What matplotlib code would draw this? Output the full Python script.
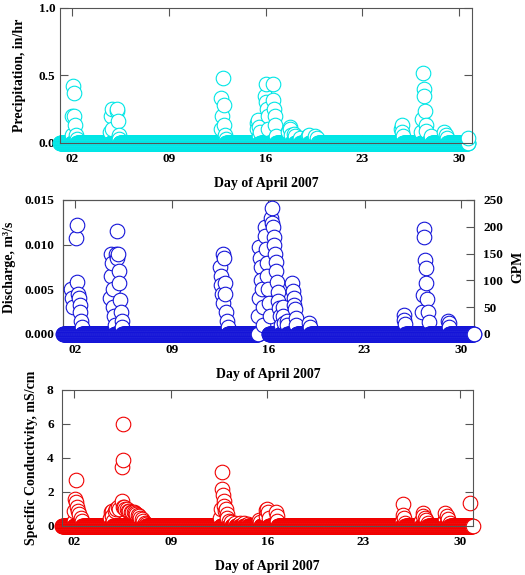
import matplotlib
matplotlib.use('Agg')
import matplotlib.pyplot as plt
import numpy as np

plt.rcParams['font.family'] = ['Liberation Serif', 'DejaVu Serif']
plt.rcParams['font.weight'] = 'bold'
plt.rcParams['axes.labelweight'] = 'bold'

# x 축 눈금 (4월 날짜)
day_ticks = [2, 9, 16, 23, 30]
day_labels = ['02', '09', '16', '23', '30']

# 강수량 (in/hr) - 0이 아닌 값들
precip_days = [1.95, 2.00, 2.05, 2.10, 2.15, 2.20, 2.25, 2.30,
               4.75, 4.80, 4.85, 4.90, 5.20, 5.25, 5.30, 5.35, 5.40,
               12.75, 12.80, 12.85, 12.90, 12.95, 13.00, 13.05, 13.10,
               15.35, 15.40, 15.45, 15.50, 15.55, 15.60,
               15.95, 16.00, 16.05, 16.10, 16.15, 16.20,
               16.50, 16.55, 16.60, 16.65, 16.70, 16.75,
               17.65, 17.75, 17.80, 17.85, 18.05, 18.10, 18.50, 19.05, 19.15, 19.60, 19.75,
               25.80, 25.85, 25.90, 25.95,
               27.25, 27.30, 27.40, 27.45, 27.50, 27.55, 27.60, 27.65, 28.00,
               28.95, 29.05, 29.15, 30.69]
precip_vals = [0.06, 0.20, 0.42, 0.37, 0.20, 0.13, 0.06, 0.03,
               0.08, 0.20, 0.25, 0.10, 0.24, 0.25, 0.16, 0.06, 0.03,
               0.10, 0.33, 0.20, 0.48, 0.28, 0.13, 0.06, 0.03,
               0.15, 0.10, 0.17, 0.05, 0.12, 0.08,
               0.35, 0.30, 0.44, 0.25, 0.20, 0.10,
               0.44, 0.32, 0.25, 0.20, 0.13, 0.05,
               0.08, 0.12, 0.10, 0.06, 0.07, 0.05, 0.04, 0.05, 0.06, 0.05, 0.04,
               0.10, 0.13, 0.08, 0.05,
               0.08, 0.18, 0.52, 0.40, 0.35, 0.24, 0.13, 0.09, 0.05,
               0.08, 0.06, 0.04, 0.04]
precip_zero_spans = [(1.1, 30.7)]

# 유량 (m3/s)
flow_days = [1.70, 1.75, 1.80,
             2.05, 2.10, 2.15, 2.20, 2.25, 2.30, 2.35, 2.40, 2.45,
             4.50, 4.55, 4.60, 4.65, 4.70, 4.75, 4.80, 4.85,
             4.95, 5.00, 5.05, 5.10, 5.15, 5.20, 5.25, 5.30, 5.35, 5.40,
             12.50, 12.55, 12.60, 12.65, 12.70, 12.75, 12.80, 12.85, 12.90, 12.95, 13.00, 13.05,
             15.25, 15.30, 15.35, 15.40, 15.45, 15.50, 15.55, 15.60, 15.65,
             15.75, 15.80, 15.85, 15.90, 15.95, 16.00, 16.05, 16.10,
             16.20, 16.25, 16.30, 16.35, 16.40, 16.45, 16.50, 16.55, 16.60, 16.65, 16.70, 16.75, 16.80, 16.85, 16.90,
             17.05, 17.10, 17.15, 17.35, 17.40,
             17.75, 17.80, 17.85, 17.90, 17.95, 18.00, 18.05,
             19.00, 19.05,
             25.85, 25.90, 25.95,
             27.20, 27.25, 27.30, 27.35, 27.40, 27.45, 27.50, 27.55, 27.60, 27.65,
             29.05, 29.10, 29.15]
flow_vals = [0.0050, 0.0040, 0.0030,
             0.0108, 0.0122, 0.0058, 0.0045, 0.0040, 0.0033, 0.0025, 0.0015, 0.0008,
             0.0040, 0.0065, 0.0090, 0.0080, 0.0050, 0.0030, 0.0020, 0.0010,
             0.0090, 0.0115, 0.0085, 0.0090, 0.0070, 0.0057, 0.0038, 0.0025, 0.0015, 0.0008,
             0.0075, 0.0065, 0.0055, 0.0045, 0.0035, 0.0090, 0.0085, 0.0057, 0.0045, 0.0025, 0.0015, 0.0008,
             0.0020, 0.0040, 0.0097, 0.0085, 0.0075, 0.0060, 0.0050, 0.0030, 0.0010,
             0.0120, 0.0110, 0.0095, 0.0080, 0.0065, 0.0050, 0.0035, 0.0020,
             0.0130, 0.0141, 0.0124, 0.0120, 0.0109, 0.0100, 0.0090, 0.0081, 0.0071, 0.0058, 0.0047, 0.0037, 0.0029, 0.0020, 0.0010,
             0.0030, 0.0020, 0.0012, 0.0015, 0.0010,
             0.0057, 0.0048, 0.0040, 0.0033, 0.0028, 0.0018, 0.0010,
             0.0012, 0.0008,
             0.0021, 0.0016, 0.0011,
             0.0025, 0.0044, 0.0118, 0.0109, 0.0083, 0.0074, 0.0057, 0.0039, 0.0025, 0.0013,
             0.0015, 0.0012, 0.0008]
flow_zero_spans = [(1.1, 15.3), (16.05, 30.95)]

# 전기전도도 (mS/cm)
cond_days = [1.95, 2.00, 2.05, 2.10, 2.15, 2.20, 2.25, 2.35, 2.45, 2.55,
             4.55, 4.60, 4.65, 4.70, 4.75, 4.80,
             4.95, 5.05, 5.15, 5.25, 5.45, 5.48, 5.50, 5.52, 5.55, 5.60, 5.70, 5.80, 5.90,
             6.00, 6.10, 6.20, 6.30, 6.40, 6.50, 6.60, 6.70, 6.80, 6.90, 7.00, 7.10, 7.20,
             12.60, 12.65, 12.70, 12.75, 12.80, 12.85, 12.90, 12.95, 13.00, 13.05, 13.10,
             13.20, 13.40, 13.70, 14.00, 14.30, 14.60,
             15.30, 15.40, 15.50, 15.90, 15.95, 16.00, 16.05, 16.10, 16.65, 16.70, 16.75,
             25.80, 25.85, 25.90, 25.95, 26.00,
             27.20, 27.30, 27.35, 27.45, 27.55, 27.65,
             28.90, 28.95, 29.05, 29.15, 29.25,
             30.75]
cond_vals = [0.3, 0.9, 1.6, 2.7, 1.4, 1.1, 0.9, 0.7, 0.5, 0.3,
             0.2, 0.5, 0.8, 0.9, 0.6, 0.3,
             0.9, 1.0, 1.1, 1.0, 1.5, 3.45, 3.9, 6.0, 1.1, 1.1, 1.0, 1.0, 0.9,
             0.9, 0.8, 0.8, 0.8, 0.75, 0.7, 0.65, 0.6, 0.5, 0.4, 0.3, 0.2, 0.1,
             0.5, 1.0, 3.2, 2.2, 1.8, 1.5, 1.2, 0.9, 1.0, 0.7, 0.5,
             0.3, 0.25, 0.2, 0.2, 0.15, 0.1,
             0.2, 0.35, 0.25, 0.6, 0.95, 1.0, 0.8, 0.5, 0.8, 0.6, 0.3,
             0.3, 1.3, 0.65, 0.47, 0.2,
             0.3, 0.76, 0.6, 0.47, 0.35, 0.2,
             0.4, 0.76, 0.6, 0.4, 0.2,
             1.35]
cond_zero_spans = [(1.1, 30.95)]

step = 1 / 48.0  # 30분 간격 측정


def build(days, vals, spans):
    t = list(days)
    v = list(vals)
    for a, b in spans:
        z = np.arange(a, b + 1e-9, step)
        t += list(z)
        v += [0.0] * len(z)
    order = np.argsort(t, kind='stable')
    return np.array(t)[order], np.array(v)[order]


def style(ax, ypad):
    ax.set_xlim(1.1, 30.95)
    ax.set_xticks(day_ticks)
    ax.set_xticklabels(day_labels)
    ax.tick_params(axis='both', direction='in', length=6, width=0.8, color='#555555',
                   labelsize=9.5, top=True, right=True)
    ax.tick_params(axis='x', pad=7)
    ax.tick_params(axis='y', pad=ypad)
    for s in ax.spines.values():
        s.set_color('#555555')
        s.set_linewidth(0.8)
    ax.set_xlabel('Day of April 2007', fontsize=10, labelpad=9)


fig = plt.figure(figsize=(5.25, 5.75), dpi=100)

# 1. 강수량
ax1 = fig.add_axes([60 / 525, 1 - 143 / 575, 412 / 525, 135 / 575])
t, v = build(precip_days, precip_vals, precip_zero_spans)
ax1.plot(t, v, 'o', ls='none', ms=10.5, mfc='white', mec='#00E6E6', mew=0.8, clip_on=False)
ax1.set_ylim(0, 1.0)
ax1.set_yticks([0, 0.5, 1.0])
ax1.set_yticklabels(['0.0', '0.5', '1.0'])
style(ax1, 3.5)
ax1.set_ylabel('Precipitation, in/hr', fontsize=10)
ax1.yaxis.set_label_coords(-0.083, 0.5)

# 2. 유량
ax2 = fig.add_axes([63 / 525, 1 - 334 / 575, 411 / 525, 134 / 575])
t, v = build(flow_days, flow_vals, flow_zero_spans)
ax2.plot(t, v, 'o', ls='none', ms=10.5, mfc='white', mec='#1414D8', mew=0.8, clip_on=False, zorder=3)
ax2.set_ylim(0, 0.015)
ax2.set_yticks([0, 0.005, 0.010, 0.015])
ax2.set_yticklabels(['0.000', '0.005', '0.010', '0.015'])
style(ax2, 6.5)
ax2.tick_params(axis='y', right=False)
ax2.set_ylabel('Discharge, m³/s', fontsize=10)
ax2.yaxis.set_label_coords(-0.114, 0.5)
ax2b = ax2.twinx()
ax2b.set_ylim(0, 250)
ax2b.set_yticks([0, 50, 100, 150, 200, 250])
ax2b.tick_params(axis='y', direction='in', length=6, width=0.8, color='#555555',
                 labelsize=9.5, pad=6.5)
ax2b.set_ylabel('GPM', fontsize=10)
ax2b.yaxis.set_label_coords(1.09, 0.5)
for s in ax2b.spines.values():
    s.set_color('#555555')
    s.set_linewidth(0.8)
ax2.set_zorder(ax2b.get_zorder() + 1)
ax2.patch.set_visible(False)

# 3. 전기전도도
ax3 = fig.add_axes([62 / 525, 1 - 526 / 575, 411 / 525, 136 / 575])
t, v = build(cond_days, cond_vals, cond_zero_spans)
ax3.plot(t, v, 'o', ls='none', ms=10.5, mfc='white', mec='#F00000', mew=0.8, clip_on=False)
ax3.set_ylim(0, 8)
ax3.set_yticks([0, 2, 4, 6, 8])
style(ax3, 6)
ax3.set_ylabel('Specific Conductivity, mS/cm', fontsize=10)
ax3.yaxis.set_label_coords(-0.058, 0.5)

fig.savefig('out.png', dpi=100)
